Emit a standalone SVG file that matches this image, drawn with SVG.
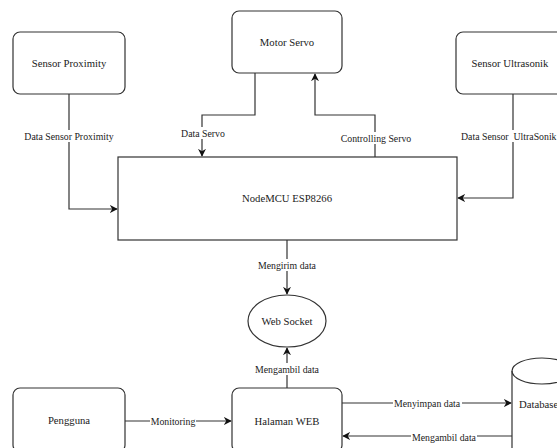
<svg xmlns="http://www.w3.org/2000/svg" width="557" height="448" viewBox="0 0 557 448">
<defs>
<style>
.node{fill:#fff;stroke:#333;stroke-width:1.2}
.t{font-family:'Liberation Serif','DejaVu Serif',serif;font-size:10.7px;fill:#1a1a1a;text-anchor:middle;dominant-baseline:central}
.l{font-family:'Liberation Serif','DejaVu Serif',serif;font-size:9.8px;fill:#1a1a1a;text-anchor:middle;dominant-baseline:central}
.e{fill:none;stroke:#333;stroke-width:1.2}
.bg{fill:#fff}
</style>
<marker id="arr" viewBox="0 0 10 10" refX="9" refY="5" markerWidth="8" markerHeight="8" markerUnits="userSpaceOnUse" orient="auto">
<path d="M0,0 L10,5 L0,10 L3,5 Z" fill="#111"/>
</marker>
</defs>
<rect width="557" height="448" fill="#fff"/>
<g id="edges">
<path class="e" d="M69,94 V209 H117" marker-end="url(#arr)"/>
<path class="e" d="M255,73 V115 H202 V156" marker-end="url(#arr)"/>
<path class="e" d="M375,157 V115 H315 V74" marker-end="url(#arr)"/>
<path class="e" d="M513,94 V198 H458" marker-end="url(#arr)"/>
<path class="e" d="M287,240 V294" marker-end="url(#arr)"/>
<path class="e" d="M287,388 V348" marker-end="url(#arr)"/>
<path class="e" d="M125,421 H231" marker-end="url(#arr)"/>
<path class="e" d="M342,403 H511" marker-end="url(#arr)"/>
<path class="e" d="M512,436 H343" marker-end="url(#arr)"/>
<rect class="bg" x="23" y="130" width="93" height="12"/>
<text class="l" x="69" y="136">Data Sensor Proximity</text>
<rect class="bg" x="180" y="127" width="47" height="12"/>
<text class="l" x="203" y="133">Data Servo</text>
<rect class="bg" x="340" y="132" width="73" height="12"/>
<text class="l" x="376" y="138">Controlling Servo</text>
<rect class="bg" x="460" y="130" width="106" height="12"/>
<text class="l" x="461" y="136" style="text-anchor:start" xml:space="preserve">Data Sensor  UltraSonik</text>
<rect class="bg" x="258" y="259" width="59" height="12"/>
<text class="l" x="287" y="265">Mengirim data</text>
<rect class="bg" x="255" y="363" width="65" height="12"/>
<text class="l" x="287" y="369">Mengambil data</text>
<rect class="bg" x="150" y="415" width="46" height="12"/>
<text class="l" x="173" y="421">Monitoring</text>
<rect class="bg" x="393" y="397" width="69" height="12"/>
<text class="l" x="427" y="403">Menyimpan data</text>
<rect class="bg" x="411" y="431" width="66" height="12"/>
<text class="l" x="444" y="437">Mengambil data</text>
</g>
<g id="sensor-proximity">
<rect class="node" x="13" y="32" width="112" height="62" rx="7"/>
<text class="t" x="69" y="63">Sensor Proximity</text>
</g>
<g id="motor-servo">
<rect class="node" x="232" y="11" width="110" height="62" rx="7"/>
<text class="t" x="287" y="42">Motor Servo</text>
</g>
<g id="sensor-ultrasonik">
<rect class="node" x="456" y="32" width="110" height="62" rx="7"/>
<text class="t" x="510" y="63">Sensor Ultrasonik</text>
</g>
<g id="nodemcu">
<rect class="node" x="118" y="157" width="339" height="83"/>
<text class="t" x="287" y="198">NodeMCU ESP8266</text>
</g>
<g id="web-socket">
<ellipse class="node" cx="287" cy="321" rx="39" ry="26"/>
<text class="t" x="287" y="321">Web Socket</text>
</g>
<g id="pengguna">
<rect class="node" x="13" y="388" width="112" height="64" rx="7"/>
<text class="t" x="69" y="420">Pengguna</text>
</g>
<g id="halaman-web">
<rect class="node" x="232" y="388" width="110" height="64" rx="7"/>
<text class="t" x="287" y="421">Halaman WEB</text>
</g>
<g id="database">
<path class="node" d="M512,371 A30,13 0 0 1 572,371 V460 H512 Z"/>
<path class="e" d="M512,371 A30,13 0 0 0 572,371"/>
<text class="t" x="519" y="404" style="text-anchor:start">Database</text>
</g>
</svg>
